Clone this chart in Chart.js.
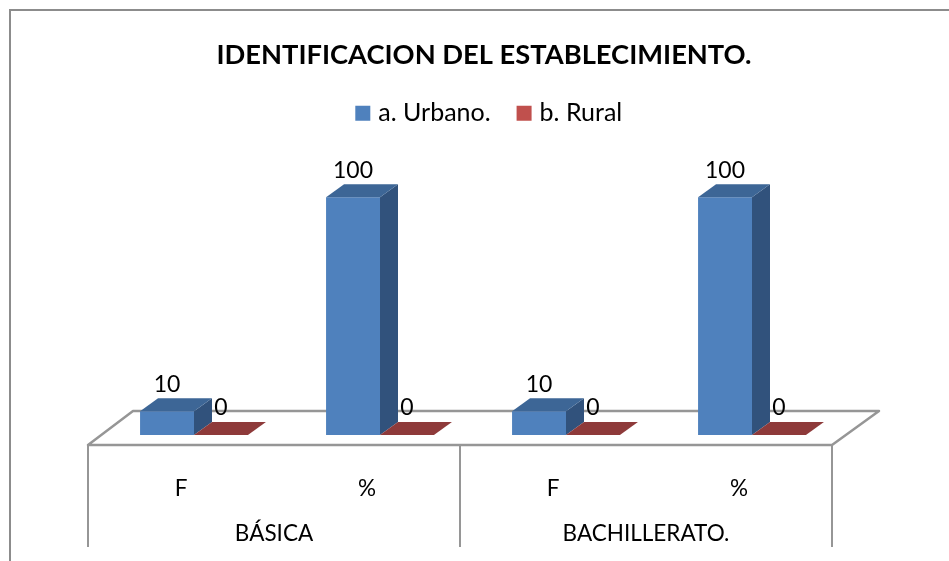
<!DOCTYPE html>
<html><head><meta charset="utf-8">
<style>html,body{margin:0;padding:0;background:#fff}canvas{display:block}#w{width:949px;height:561px}</style>
<script src="https://cdn.jsdelivr.net/npm/chart.js@4/dist/chart.umd.js"></script>
</head><body><div id="w"><canvas id="c"></canvas></div>
<script>
const categories = ['F','%','F','%'];
const groups = ['BÁSICA','BACHILLERATO.'];
const urbano = [10,100,10,100];
const rural = [0,0,0,0];
const seriesNames = ['a. Urbano.','b. Rural'];
const titleText = 'IDENTIFICACION DEL ESTABLECIMIENTO.';
const FONT = 'Lato, Carlito, Calibri, sans-serif';
const DX = 18, DY = -13, OFF = -13, GRID = '#969696';

function poly(ctx, pts, fill){
  ctx.beginPath(); pts.forEach((p,i)=> i?ctx.lineTo(p[0],p[1]):ctx.moveTo(p[0],p[1]));
  ctx.closePath(); ctx.fillStyle = fill; ctx.fill();
}
const scene = {
  id:'scene',
  afterLayout(chart){
    chart.titleBlock.left += 11; chart.titleBlock.right += 11;
    chart.legend.left += 18; chart.legend.right += 18;
  },
  beforeDraw(chart){
    const c = chart.ctx; c.save();
    c.strokeStyle = '#8c8c8c'; c.lineWidth = 2;
    c.beginPath(); c.moveTo(10,561); c.lineTo(10,10); c.lineTo(949,10); c.stroke();
    c.restore();
  },
  beforeDatasetsDraw(chart){
    const c = chart.ctx, a = chart.chartArea, y0 = chart.scales.y.getPixelForValue(0);
    const l = a.left+OFF, r = a.right+OFF, m = (a.left+a.right)/2+OFF, f = y0+10, b = y0-24;
    c.save(); c.strokeStyle = GRID; c.lineWidth = 2.5; c.lineJoin='round';
    c.beginPath(); c.moveTo(l,f); c.lineTo(l+45,b); c.lineTo(r+47,b); c.lineTo(r,f); c.closePath(); c.stroke();
    c.lineWidth = 2; c.beginPath();
    c.moveTo(l,f); c.lineTo(l,f+102); c.moveTo(m,f); c.lineTo(m,f+102); c.moveTo(r,f); c.lineTo(r,f+102); c.stroke();
    c.restore();
  },
  afterDatasetsDraw(chart){
    const c = chart.ctx;
    const faces = [{top:'#3d6696',side:'#31527c'},{top:'#8e3a3a',side:'#7a3030'}];
    c.save();
    chart.data.datasets.forEach((ds,d)=>{
      chart.getDatasetMeta(d).data.forEach((bar,i)=>{
        const L = bar.x-bar.width/2, R = bar.x+bar.width/2, T = bar.y, B = bar.base;
        if(B-T>0.5) poly(c,[[R,T],[R+DX,T+DY],[R+DX,B+DY],[R,B]],faces[d].side);
        poly(c,[[L,T],[L+DX,T+DY],[R+DX,T+DY],[R,T]],faces[d].top);
      });
    });
    c.fillStyle='#000'; c.font='23px '+FONT; c.textAlign='center'; c.textBaseline='middle';
    chart.data.datasets.forEach((ds,d)=>{
      chart.getDatasetMeta(d).data.forEach((bar,i)=>{
        c.fillText(String(ds.data[i]), bar.x, bar.y-27);
      });
    });
    c.restore();
  }
};
new Chart(document.getElementById('c'),{
  type:'bar',
  data:{labels:categories,datasets:[
    {label:seriesNames[0],data:urbano,backgroundColor:'#4f81bd',borderWidth:0,categoryPercentage:0.58,barPercentage:1},
    {label:seriesNames[1],data:rural,backgroundColor:'#c0504d',borderWidth:0,categoryPercentage:0.58,barPercentage:1}
  ]},
  plugins:[scene],
  options:{
    responsive:true,maintainAspectRatio:false,animation:false,
    layout:{padding:{left:101,right:104,top:0,bottom:13}},
    plugins:{
      tooltip:{enabled:false},
      title:{display:true,text:titleText,color:'#000',fullSize:true,
        font:{family:FONT,size:27.3,weight:'bold',lineHeight:1},padding:{top:41.7,bottom:1.26}},
      legend:{position:'top',fullSize:true,labels:{color:'#000',usePointStyle:true,pointStyle:'rect',boxWidth:6,boxHeight:15,padding:30.5,
        font:{family:FONT,size:25}}}
    },
    scales:{
      y:{display:false,min:0,max:125.8},
      x:{position:'bottom',offset:true,grid:{display:false},border:{display:false},
        ticks:{color:'#000',font:{family:FONT,size:22.5},padding:32,labelOffset:OFF,maxRotation:0,autoSkip:false},
        afterFit(s){s.height=70}},
      x2:{type:'category',position:'bottom',labels:groups,offset:true,grid:{display:false,drawTicks:false},border:{display:false},
        ticks:{color:'#000',font:{family:FONT,size:22.5},padding:15,labelOffset:OFF,maxRotation:0,autoSkip:false},
        afterFit(s){s.height=43}}
    }
  }
});
</script></body></html>
